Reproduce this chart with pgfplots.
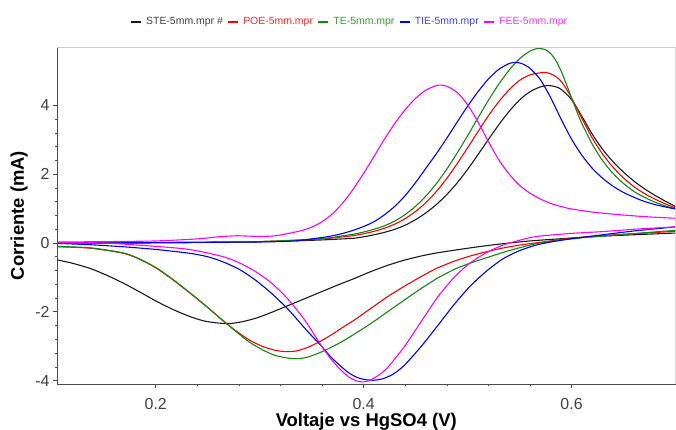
\documentclass[border=0pt]{standalone}
\usepackage{fontspec}
\setmainfont{Liberation Sans}
\usepackage{pgfplots}
\usepackage{pgfplotstable}
\pgfplotsset{compat=1.18}
\definecolor{cblack}{HTML}{1A1A1A}
\definecolor{cred}{HTML}{FF0000}
\definecolor{cgreen}{HTML}{108A10}
\definecolor{cblue}{HTML}{0000FF}
\definecolor{cpink}{HTML}{FF00FF}

% ---------- STE ----------
\pgfplotstableread{
x y
0.105 0.00
0.15 0.00
0.20 0.01
0.25 0.02
0.30 0.04
0.33 0.06
0.36 0.09
0.38 0.12
0.391 0.14
0.40 0.18
0.41 0.24
0.42 0.31
0.43 0.40
0.44 0.52
0.45 0.68
0.46 0.88
0.47 1.12
0.48 1.41
0.49 1.75
0.50 2.14
0.51 2.57
0.52 3.01
0.53 3.44
0.54 3.83
0.55 4.16
0.56 4.40
0.57 4.54
0.578 4.58
0.585 4.54
0.59 4.47
0.60 4.17
0.61 3.68
0.62 3.16
0.63 2.72
0.64 2.36
0.65 2.06
0.66 1.80
0.67 1.58
0.68 1.39
0.69 1.22
0.70 1.06
}\steU
\pgfplotstableread{
x y
0.105 -0.49
0.12 -0.59
0.137 -0.74
0.153 -0.94
0.169 -1.17
0.185 -1.43
0.201 -1.70
0.217 -1.94
0.233 -2.14
0.247 -2.27
0.261 -2.33
0.272 -2.34
0.283 -2.29
0.297 -2.18
0.312 -2.01
0.328 -1.81
0.344 -1.61
0.360 -1.41
0.376 -1.21
0.392 -1.02
0.407 -0.83
0.423 -0.65
0.439 -0.50
0.455 -0.38
0.470 -0.29
0.487 -0.21
0.51 -0.11
0.534 -0.02
0.56 0.06
0.597 0.14
0.63 0.20
0.66 0.24
0.70 0.29
}\steL
% ---------- POE ----------
\pgfplotstableread{
x y
0.105 0.00
0.20 0.01
0.30 0.04
0.36 0.12
0.38 0.18
0.391 0.22
0.40 0.27
0.41 0.34
0.42 0.43
0.43 0.55
0.44 0.71
0.45 0.92
0.46 1.18
0.47 1.50
0.48 1.88
0.49 2.31
0.50 2.77
0.51 3.24
0.52 3.70
0.53 4.11
0.54 4.46
0.55 4.73
0.56 4.89
0.57 4.95
0.575 4.96
0.58 4.92
0.585 4.84
0.59 4.70
0.595 4.48
0.60 4.22
0.61 3.62
0.62 3.05
0.63 2.58
0.64 2.20
0.65 1.89
0.66 1.64
0.67 1.44
0.68 1.28
0.69 1.14
0.70 1.02
}\poeU
\pgfplotstableread{
x y
0.105 -0.11
0.137 -0.15
0.169 -0.30
0.185 -0.48
0.201 -0.74
0.217 -1.08
0.233 -1.46
0.249 -1.85
0.264 -2.24
0.277 -2.55
0.290 -2.82
0.303 -3.01
0.315 -3.12
0.325 -3.16
0.335 -3.14
0.345 -3.05
0.353 -2.94
0.36 -2.83
0.37 -2.65
0.38 -2.45
0.391 -2.24
0.407 -1.90
0.423 -1.56
0.439 -1.26
0.455 -0.98
0.470 -0.74
0.487 -0.53
0.50 -0.40
0.512 -0.30
0.53 -0.17
0.55 -0.06
0.575 0.04
0.597 0.13
0.63 0.22
0.66 0.27
0.70 0.34
}\poeL
% ---------- TE ----------
\pgfplotstableread{
x y
0.105 0.00
0.20 0.01
0.30 0.04
0.36 0.13
0.38 0.21
0.391 0.26
0.40 0.32
0.41 0.40
0.42 0.50
0.43 0.64
0.44 0.83
0.45 1.07
0.46 1.37
0.47 1.73
0.48 2.15
0.49 2.62
0.50 3.12
0.51 3.64
0.52 4.15
0.53 4.62
0.54 5.03
0.55 5.36
0.56 5.58
0.568 5.66
0.575 5.62
0.58 5.51
0.585 5.30
0.59 5.00
0.595 4.62
0.60 4.22
0.605 3.83
0.61 3.47
0.62 2.87
0.63 2.39
0.64 2.02
0.65 1.73
0.66 1.50
0.67 1.33
0.68 1.19
0.69 1.08
0.70 0.99
}\teU
\pgfplotstableread{
x y
0.105 -0.10
0.137 -0.14
0.169 -0.29
0.185 -0.47
0.201 -0.73
0.217 -1.07
0.233 -1.45
0.249 -1.85
0.264 -2.24
0.277 -2.57
0.290 -2.88
0.303 -3.11
0.315 -3.27
0.328 -3.35
0.338 -3.36
0.347 -3.31
0.360 -3.16
0.376 -2.92
0.391 -2.65
0.407 -2.34
0.423 -2.00
0.439 -1.66
0.455 -1.33
0.470 -1.04
0.487 -0.77
0.502 -0.59
0.518 -0.43
0.54 -0.22
0.566 -0.02
0.59 0.09
0.613 0.16
0.65 0.25
0.70 0.37
}\teL
% ---------- TIE ----------
\pgfplotstableread{
x y
0.105 0.00
0.20 0.01
0.25 0.02
0.30 0.03
0.328 0.05
0.34 0.08
0.35 0.12
0.36 0.16
0.37 0.21
0.38 0.28
0.39 0.37
0.40 0.48
0.41 0.62
0.42 0.82
0.43 1.07
0.44 1.38
0.45 1.76
0.46 2.18
0.47 2.60
0.48 3.05
0.49 3.52
0.50 3.98
0.51 4.40
0.52 4.77
0.53 5.05
0.54 5.22
0.546 5.25
0.552 5.22
0.56 5.08
0.57 4.75
0.58 4.22
0.59 3.60
0.60 3.02
0.61 2.55
0.62 2.17
0.63 1.88
0.64 1.65
0.65 1.47
0.66 1.33
0.67 1.21
0.68 1.12
0.69 1.05
0.70 0.99
}\tieU
\pgfplotstableread{
x y
0.105 -0.01
0.137 -0.05
0.169 -0.11
0.201 -0.19
0.233 -0.30
0.25 -0.40
0.264 -0.54
0.28 -0.76
0.296 -1.08
0.312 -1.48
0.328 -1.95
0.344 -2.50
0.360 -3.02
0.368 -3.30
0.376 -3.53
0.385 -3.76
0.393 -3.90
0.401 -3.97
0.41 -3.99
0.418 -3.95
0.428 -3.82
0.439 -3.56
0.455 -3.02
0.470 -2.45
0.487 -1.79
0.502 -1.27
0.518 -0.82
0.534 -0.46
0.55 -0.22
0.566 -0.06
0.58 0.03
0.597 0.11
0.63 0.24
0.66 0.35
0.70 0.47
}\tieL
% ---------- FEE ----------
\pgfplotstableread{
x y
0.105 0.03
0.15 0.04
0.20 0.06
0.24 0.12
0.26 0.18
0.277 0.21
0.29 0.20
0.30 0.19
0.315 0.21
0.328 0.28
0.34 0.36
0.35 0.46
0.36 0.62
0.37 0.85
0.38 1.17
0.39 1.57
0.40 2.03
0.41 2.52
0.42 3.02
0.43 3.48
0.44 3.88
0.45 4.21
0.46 4.45
0.47 4.58
0.475 4.59
0.48 4.56
0.49 4.38
0.50 4.02
0.51 3.52
0.52 2.95
0.53 2.42
0.54 2.00
0.55 1.68
0.56 1.45
0.57 1.28
0.58 1.15
0.59 1.06
0.60 0.99
0.62 0.90
0.64 0.84
0.66 0.79
0.68 0.75
0.70 0.72
}\feeU
\pgfplotstableread{
x y
0.105 0.01
0.15 0.00
0.201 -0.10
0.233 -0.19
0.264 -0.39
0.28 -0.57
0.296 -0.83
0.312 -1.18
0.328 -1.66
0.344 -2.27
0.360 -3.02
0.368 -3.35
0.376 -3.63
0.385 -3.88
0.393 -4.01
0.400 -4.04
0.407 -3.98
0.415 -3.83
0.423 -3.62
0.439 -3.02
0.455 -2.30
0.471 -1.58
0.487 -1.00
0.502 -0.59
0.518 -0.28
0.534 -0.06
0.55 0.08
0.566 0.19
0.60 0.28
0.629 0.33
0.66 0.40
0.70 0.47
}\feeL

\begin{document}
\begin{tikzpicture}
\useasboundingbox (0,0) rectangle (676bp,430bp);
\begin{axis}[
  at={(57bp,46bp)}, anchor=south west,
  scale only axis, width=618.5bp, height=337bp,
  xmin=0.105, xmax=0.70, ymin=-4.1, ymax=5.7,
  axis lines=left,
  axis line style={-, black!70, line width=0.8bp},
  tick align=outside,
  major tick length=4bp, minor tick length=2bp,
  every tick/.style={black!70, line width=0.6bp},
  xtick={0.2,0.4,0.6}, ytick={-4,-2,0,2,4},
  xticklabels={0.2,0.4,0.6}, yticklabels={-4,-2,0,2,4},
  minor x tick num=4, minor y tick num=4,
  ticklabel style={font=\fontsize{16}{19}\selectfont, text=black!75},
  xticklabel style={yshift=-7bp},
  xlabel={\bfseries Voltaje vs HgSO4 (V)},
  ylabel={\bfseries Corriente (mA)},
  label style={font=\fontsize{18.5}{22}\selectfont},
  xlabel style={at={(axis description cs:0.5,-0.1276)}, anchor=base},
  ylabel style={at={(axis description cs:-0.0614,0.5)}, anchor=center, rotate=0},
  legend columns=-1,
  legend cell align=left,
  legend style={draw=none, fill=none, at={(axis description cs:0.4725,1.074)}, anchor=center,
    font=\fontsize{10.5}{12}\selectfont, column sep=3.2bp, nodes={inner sep=1.2bp}},
  legend image code/.code={\draw[#1, line width=1.6bp] (0bp,0bp) -- (10bp,0bp);},
  every axis plot/.append style={line width=1.1bp, smooth, tension=0.45},
]
\addplot[cblack] table {\steU};
\addlegendentry{\textcolor{black!75}{STE-5mm.mpr \#}}
\addplot[cblack, forget plot] table {\steL};
\addplot[cred] table {\poeU};
\addlegendentry{\textcolor{cred!85}{POE-5mm.mpr}}
\addplot[cred, forget plot] table {\poeL};
\addplot[cgreen] table {\teU};
\addlegendentry{\textcolor{cgreen!85}{TE-5mm.mpr}}
\addplot[cgreen, forget plot] table {\teL};
\addplot[cblue] table {\tieU};
\addlegendentry{\textcolor{cblue!75}{TIE-5mm.mpr}}
\addplot[cblue, forget plot] table {\tieL};
\addplot[cpink] table {\feeU};
\addlegendentry{\textcolor{cpink!80}{FEE-5mm.mpr}}
\addplot[cpink, forget plot] table {\feeL};
\draw[black!20, line width=0.8bp] (rel axis cs:0,1) -- (rel axis cs:1,1) -- (rel axis cs:1,0);
\end{axis}
\end{tikzpicture}
\end{document}
